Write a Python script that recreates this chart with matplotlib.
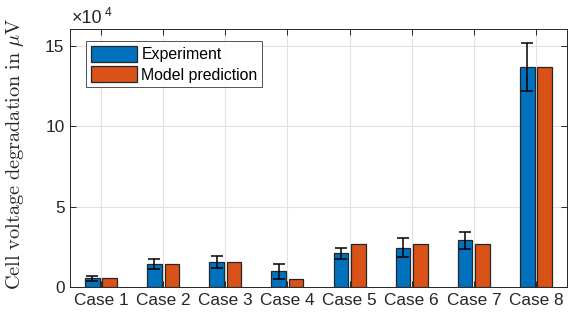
import matplotlib.pyplot as plt
import numpy as np

plt.rcParams["font.family"] = "Liberation Sans"
plt.rcParams["mathtext.fontset"] = "cm"

# degradation values in microvolts
cases = ["Case 1", "Case 2", "Case 3", "Case 4", "Case 5", "Case 6", "Case 7", "Case 8"]
experiment = [5600, 14300, 15500, 9900, 21100, 24600, 29100, 136800]
experiment_err = [1500, 3100, 3700, 4500, 3400, 5800, 5100, 14900]
model = [5600, 14300, 15500, 5300, 26700, 26700, 26700, 136600]

blue = "#0072BD"
orange = "#D95319"
dark = "#262626"

fig = plt.figure(figsize=(5.71, 3.2), dpi=100)
ax = fig.add_axes([0.1226, 0.102, 0.8704, 0.806])

x = np.arange(1, len(cases) + 1)
w = 0.236
off = 0.14

ax.bar(x - off, experiment, w, color=blue, edgecolor=dark, linewidth=0.9,
       label="Experiment", zorder=2)
ax.bar(x + off, model, w, color=orange, edgecolor=dark, linewidth=0.9,
       label="Model prediction", zorder=2)
ax.errorbar(x - off, experiment, yerr=experiment_err, fmt="none", ecolor="black",
            elinewidth=1.1, capsize=4.2, capthick=1.1, zorder=3)

ax.set_xlim(0.5, 8.5)
ax.set_ylim(0, 160000)
ax.set_xticks(x)
ax.set_xticklabels(cases, fontsize=12.4)
ax.set_yticks([0, 50000, 100000, 150000])
ax.set_yticklabels(["0", "5", "10", "15"], fontsize=12.4)

# exponent of the y scale, drawn by hand above the axis
ax.text(0.004, 1.010, "\u00d710", transform=ax.transAxes, fontsize=13,
        color=dark, ha="left", va="bottom")
ax.text(0.070, 1.040, "4", transform=ax.transAxes, fontsize=8.8,
        color=dark, ha="left", va="bottom")

ax.tick_params(direction="in", top=True, right=True, length=4, width=0.7,
               colors=dark, pad=4)
for s in ax.spines.values():
    s.set_color(dark)
    s.set_linewidth(0.7)

ax.grid(True, color="#e2e2e2", linewidth=0.8, zorder=0)
ax.set_axisbelow(True)

ax.set_ylabel(r"$\mathrm{Cell\ voltage\ degradation\ in\ }\mu\mathrm{V}$",
              fontsize=14.6, color=dark)
ax.yaxis.set_label_coords(-0.088, 0.52)

leg = ax.legend(loc="upper left", bbox_to_anchor=(0.032, 0.955), fontsize=11.4,
                frameon=True, fancybox=False, edgecolor=dark, handlelength=2.9,
                handleheight=1.2, handletextpad=0.3, borderpad=0.3,
                labelspacing=0.25, borderaxespad=0)
leg.get_frame().set_linewidth(0.7)

plt.savefig("out.png", dpi=100)
